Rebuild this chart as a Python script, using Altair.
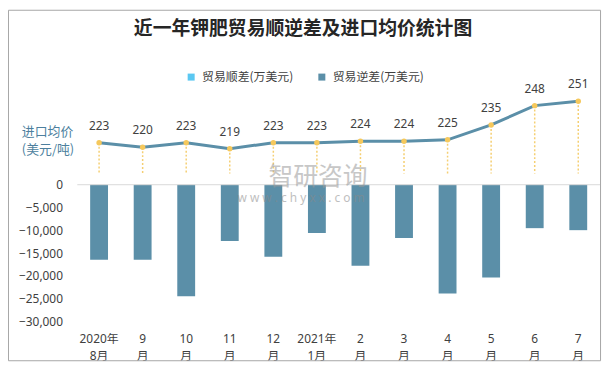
import altair as alt
import pandas as pd

# ---- data ----
months = ["2020年\n8月", "9\n月", "10\n月", "11\n月", "12\n月", "2021年\n1月",
          "2\n月", "3\n月", "4\n月", "5\n月", "6\n月", "7\n月"]
deficit = [-16450, -16450, -24460, -12340, -15800, -10600,
           -17750, -11690, -23810, -20350, -9520, -9960]
price = [223, 220, 223, 219, 223, 223, 224, 224, 225, 235, 248, 251]
series = ["贸易顺差(万美元)", "贸易逆差(万美元)"]
series_colors = ["#5bc8f2", "#5b8fa8"]
y_ticks = [0, -5000, -10000, -15000, -20000, -25000, -30000]
title_text = "近一年钾肥贸易顺逆差及进口均价统计图"
price_title = ["进口均价", "(美元/吨)"]

FONT = "Noto Sans, Noto Sans CJK SC, sans-serif"
CJK = "Noto Sans CJK SC"
TXT = "#404040"

df = pd.DataFrame({
    "month": months,
    "deficit": deficit,
    "price": price,
    "type": [series[1]] * len(months),
})
one = pd.DataFrame({"k": [0]})

x_enc = alt.X(
    "month:N", sort=months,
    scale=alt.Scale(paddingInner=0.59, paddingOuter=0.295),
    axis=alt.Axis(title=None, labelAngle=0, labelExpr="split(datum.value, '\\n')",
                  labelLineHeight=17, labelPadding=12, ticks=False, domain=False,
                  labelFontSize=12, labelColor=TXT, labelFont=FONT),
)

y_axis = alt.Axis(values=y_ticks, labelExpr="format(datum.value, ',')", title=None,
                  ticks=False, domain=False, grid=False, labelPadding=15, labelFontSize=12,
                  labelColor=TXT, labelFont=FONT)
y_scale = alt.Scale(domain=[-30000, 22495], nice=False, zero=False)

bars = alt.Chart(df).mark_bar().encode(
    x=x_enc,
    y=alt.Y("deficit:Q", scale=y_scale, axis=y_axis),
    color=alt.Color(
        "type:N",
        scale=alt.Scale(domain=series, range=series_colors),
        legend=alt.Legend(
            title=None, orient="none", direction="horizontal", legendX=109, legendY=-11,
            symbolType="square", symbolSize=50, symbolStrokeWidth=0, labelOffset=5,
            columnPadding=22, labelFontSize=12, labelColor=TXT, labelFont=CJK, padding=0,
        ),
    ),
)
zero = alt.Chart(one).mark_rule(color="#d9d9d9", strokeWidth=1).encode(
    y=alt.YDatum(0, type="quantitative", scale=y_scale, axis=y_axis))
bar_layer = alt.layer(bars, zero)

y_price = alt.Y("price:Q", scale=alt.Scale(domain=[102.5, 263.9], nice=False, zero=False),
                axis=None)
base = alt.Chart(df)
drops = base.mark_rule(color="#f5cf72", strokeDash=[2, 2], strokeWidth=1.5).encode(
    x=x_enc, y=y_price, y2=alt.datum(202.3))
line = base.mark_line(color="#5b8fa8", strokeWidth=3).encode(x=x_enc, y=y_price)
pts = base.mark_circle(color="#f5c85c", size=30, opacity=1).encode(x=x_enc, y=y_price)
lbl = base.mark_text(dy=-17, fontSize=12, color=TXT, font=FONT).encode(
    x=x_enc, y=y_price, text=alt.Text("price:Q"))
price_layer = alt.layer(drops, line, pts, lbl)

title = alt.Chart(one).mark_text(
    text=title_text, font=CJK, fontSize=19, fontWeight="bold", color="#262626",
    align="center", baseline="middle",
).encode(x=alt.value(228), y=alt.value(-54))

ptitle = alt.Chart(one).mark_text(
    text=price_title, font=CJK, fontSize=13, color="#4d7f9e", align="left",
    baseline="middle", lineHeight=18,
).encode(x=alt.value(-56), y=alt.value(51))

wm1 = alt.Chart(one).mark_text(
    text="智研咨询", font=CJK, fontSize=25, color="#9a9a9a", opacity=0.55,
    align="center", baseline="middle",
).encode(x=alt.value(243), y=alt.value(96))
wm2 = alt.Chart(one).mark_text(
    text="w w w . c h y x x . c o m", font=FONT, fontSize=12, color="#8a8a8a", opacity=0.55,
    align="center", baseline="middle",
).encode(x=alt.value(226), y=alt.value(117))

border = alt.Chart(one).mark_rect(fill="transparent", stroke="#a6a6a6", strokeWidth=1).encode(
    x=alt.value(-69.5), x2=alt.value(528.5), y=alt.value(-72.5), y2=alt.value(281.5))

chart = alt.layer(bar_layer, price_layer, title, ptitle, wm1, wm2, border).resolve_scale(
    y="independent"
).properties(
    width=528, height=242,
    autosize=alt.AutoSizeParams(type="none"),
    padding={"left": 70, "top": 73, "right": 4, "bottom": 40},
    background="white",
).configure_view(stroke=None)

chart.save("out.html", embed_options={"renderer": "svg", "actions": False})
